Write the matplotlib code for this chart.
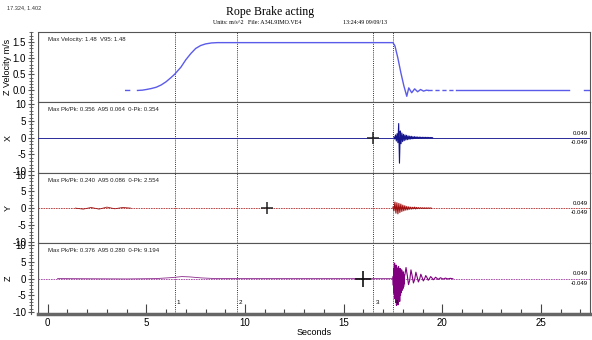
import numpy as np
import matplotlib
matplotlib.use("Agg")
import matplotlib.pyplot as plt
from matplotlib.ticker import MultipleLocator

plt.rcParams["font.family"] = ["Liberation Sans", "DejaVu Sans"]
plt.rcParams["axes.unicode_minus"] = False

# velocity trace (m/s), NaN marks a gap in the record
vel_t = [3.95, 4.15, np.nan, 4.55, 4.8, 5.0, 5.25, 5.5, 5.75, 6.0, 6.25, 6.43, 6.75, 7.0, 7.25,
         7.5, 7.75, 8.0, 8.3, 8.6, 9.0,
         17.5, 17.6, 17.75, 17.9, 18.05, 18.2, 18.3, 18.45, 18.6, 18.75, 18.9, 19.05, 19.2, 19.3]
vel_v = [0.0, 0.0, np.nan, 0.0, 0.01, 0.03, 0.06, 0.1, 0.17, 0.27, 0.4, 0.5, 0.72, 0.95, 1.14,
         1.3, 1.39, 1.44, 1.47, 1.48, 1.48,
         1.48, 1.38, 1.0, 0.55, 0.15, -0.18, 0.08, -0.07, 0.05, -0.04, 0.03, -0.02, 0.01, 0.0]
vel_dash_t = [19.3, 20.7]
vel_dash_v = [0.0, 0.0]
vel_tail_t = [20.7, 26.4, np.nan, 27.2, 27.6]
vel_tail_v = [0.0, 0.0, np.nan, 0.0, 0.0]

# X burst after the brake acts
x_start, x_step = 17.55, 0.04
x_burst = [0.2, -0.4, 0.8, -1.0, 1.2, -1.5, 4.2, -7.6, 2.0, -1.8, 1.4, -1.2, 1.0, -0.9, 0.8,
           -0.7, 0.7, -0.6, 0.5, -0.5, 0.45, -0.4, 0.4, -0.35, 0.3, -0.3, 0.3, -0.25, 0.25,
           -0.2, 0.2, -0.2, 0.18, -0.15, 0.15, -0.15, 0.12, -0.1, 0.12, -0.1, 0.1, -0.08,
           0.1, -0.08, 0.08, -0.06, 0.06, -0.05, 0.05, -0.04]

# Y burst
y_start, y_step = 17.5, 0.05
y_burst = [0.3, -0.8, 1.8, -1.5, 1.6, -1.7, 1.4, -1.3, 1.2, -1.0, 0.9, -0.8, 0.7, -0.6, 0.5,
           -0.5, 0.4, -0.35, 0.3, -0.3, 0.25, -0.2, 0.3, -0.25, 0.2, -0.15, 0.15, -0.15,
           0.12, -0.1, 0.1, -0.1, 0.08, -0.08, 0.06, -0.05, 0.05, -0.05, 0.04, -0.03]
y_low_t = [1.4, 1.8, 2.2, 2.6, 3.0, 3.4, 3.8, 4.2]
y_low_v = [0.0, -0.3, 0.2, -0.3, 0.3, -0.2, 0.2, 0.0]

# Z burst: dense part then ringing
z_dense_start, z_dense_step = 17.5, 0.02
z_dense = [0.5, -2.0, 3.0, -4.5, 4.6, -6.0, 3.5, -7.0, 4.0, -8.0, 3.2, -6.5, 2.8, -7.8, 3.6,
           -5.5, 2.5, -6.8, 3.0, -5.0, 2.2, -4.2, 2.6, -3.5, 1.8, -3.0, 2.0, -2.4, 1.2, -1.5]
z_ring_start, z_ring_step = 18.1, 0.0625
z_ring = [1.0, 3.3, 1.0, -1.8, -0.5, 2.6, 0.8, -1.3, -0.3, 1.9, 0.5, -1.0, -0.2, 1.3, 0.4,
          -0.7, -0.1, 0.9, 0.3, -0.5, 0.0, 0.6, 0.2, -0.35, 0.0, 0.4, 0.1, -0.25, 0.0, 0.25,
          0.05, -0.15, 0.0, 0.15, 0.0, -0.1, 0.0, 0.08, 0.0, -0.05]
z_low_t = [0.5, 4.0, 5.5, 6.3, 6.8, 7.2, 7.8, 8.5, 17.5]
z_low_v = [0.0, -0.1, 0.0, 0.3, 0.6, 0.5, 0.2, 0.0, 0.0]

markers_t = [6.43, 9.57, 16.5, 17.5]
marker_labels = ["1", "2", "3", "4"]
cross = {"X": 16.5, "Y": 11.1, "Z": 16.0}

info = ["Max Velocity: 1.48  V95: 1.48",
        "Max Pk/Pk: 0.356  A95 0.064  0-Pk: 0.354",
        "Max Pk/Pk: 0.240  A95 0.086  0-Pk: 2.554",
        "Max Pk/Pk: 0.376  A95 0.280  0-Pk: 9.194"]

fig = plt.figure(figsize=(5.92, 3.4), dpi=100)
axes = fig.subplots(4, 1, sharex=True,
                    gridspec_kw=dict(left=0.064, right=0.997, top=0.906, bottom=0.077, hspace=0))

frame = "#555555"
for i, ax in enumerate(axes):
    for s in ax.spines.values():
        s.set_color(frame)
        s.set_linewidth(0.8)
    ax.spines["left"].set_position(("outward", 5))
    ax.axvline(-0.5, color=frame, lw=0.9)
    ax.tick_params(axis="y", which="major", direction="inout", length=5, labelsize=7, pad=1, color=frame)
    ax.tick_params(axis="y", which="minor", direction="inout", length=2.5, color=frame)
    ax.tick_params(axis="x", which="both", bottom=False, labelbottom=False)
    for t in markers_t:
        ax.axvline(t, color="#333333", lw=0.7, ls=(0, (1, 1.2)))
    ax.text(0.018, 0.93, info[i], transform=ax.transAxes, fontsize=4.3, va="top", color="#222222")
    ax.yaxis.set_label_coords(-0.046, 0.5)
    if i > 0:
        ax.set_ylim(-10.5, 10.5)
        ax.yaxis.set_major_locator(MultipleLocator(5))
        ax.yaxis.set_minor_locator(MultipleLocator(1))
        ax.text(0.995, 0.53, "0.049", transform=ax.transAxes, fontsize=4.3, ha="right", va="bottom")
        ax.text(0.995, 0.47, "-0.049", transform=ax.transAxes, fontsize=4.3, ha="right", va="top")

ax0, axx, axy, axz = axes

ax0.plot(vel_t, vel_v, color="#5b5bea", lw=1.0)
ax0.plot(vel_dash_t, vel_dash_v, color="#5b5bea", lw=1.0, ls=(0, (3, 2)))
ax0.plot(vel_tail_t, vel_tail_v, color="#5b5bea", lw=1.0)
ax0.set_ylim(-0.37, 1.81)
ax0.yaxis.set_major_locator(MultipleLocator(0.5))
ax0.yaxis.set_minor_locator(MultipleLocator(0.1))
ax0.set_ylabel("Z Velocity m/s", fontsize=6.5)

xt = x_start + x_step * np.arange(len(x_burst))
axx.axhline(0, color="#2a2a9a", lw=0.7)
axx.plot(xt, x_burst, color="#14148c", lw=0.8)
axx.plot(cross["X"], 0, marker="+", color="#222222", ms=9, mew=1.1)
axx.set_ylabel("X", fontsize=6.5)

yt = y_start + y_step * np.arange(len(y_burst))
axy.axhline(0, color="#b03030", lw=0.6, ls=(0, (2, 1)))
axy.plot(y_low_t, y_low_v, color="#a01818", lw=0.6)
axy.plot(yt, y_burst, color="#a00f0f", lw=0.8)
axy.plot(cross["Y"], 0, marker="+", color="#222222", ms=9, mew=1.1)
axy.set_ylabel("Y", fontsize=6.5)

zd = z_dense_start + z_dense_step * np.arange(len(z_dense))
zr = z_ring_start + z_ring_step * np.arange(len(z_ring))
axz.axhline(0, color="#a040a0", lw=0.6, ls=(0, (2, 1)))
axz.plot(z_low_t, z_low_v, color="#8a2a8a", lw=0.6)
axz.plot(zd, z_dense, color="#800080", lw=0.9)
axz.plot(zr, z_ring, color="#800080", lw=0.8)
axz.plot(cross["Z"], 0, marker="+", color="#111111", ms=11, mew=1.2)
axz.set_ylabel("Z", fontsize=6.5)
for t, lab in zip(markers_t, marker_labels):
    axz.text(t + 0.12, -7.0, lab, fontsize=4.5, va="center")

axz.set_xlim(-0.5, 27.5)
axz.xaxis.set_major_locator(MultipleLocator(5))
axz.xaxis.set_minor_locator(MultipleLocator(1))
axz.tick_params(axis="x", which="both", bottom=True, labelbottom=True, direction="in", color="#444444")
axz.tick_params(axis="x", which="major", length=7, width=0.8, labelsize=7, pad=3)
axz.tick_params(axis="x", which="minor", length=3.5, width=0.8)
axz.spines["bottom"].set_linewidth(2.5)
axz.spines["bottom"].set_color("#666666")
axz.set_xlabel("Seconds", fontsize=6.5, labelpad=0)

fig.text(7 / 592, 1 - 8 / 340, "17.324, 1.402", fontsize=4, va="center", color="#333333")
fig.text(270 / 592, 1 - 12 / 340, "Rope Brake acting", fontsize=8.5, family="Liberation Serif",
         ha="center", va="center")
fig.text(213 / 592, 1 - 22 / 340, "Units: m/s^2", fontsize=4.3, family="Liberation Serif", va="center")
fig.text(248 / 592, 1 - 22 / 340, "File: A34L9IMO.VE4", fontsize=4.3, family="Liberation Serif", va="center")
fig.text(343 / 592, 1 - 22 / 340, "13:24:49 09/09/13", fontsize=4.3, family="Liberation Serif", va="center")

fig.savefig("out.png", dpi=100)
